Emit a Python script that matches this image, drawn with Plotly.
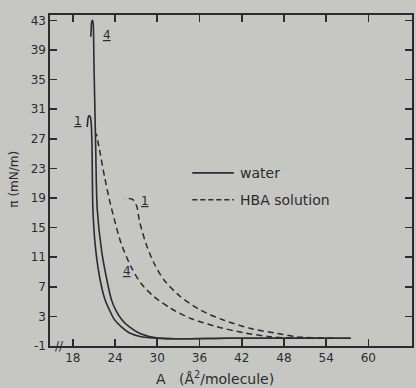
import plotly.graph_objects as go

# ---- data ----
# water, curve 1 (solid)
water1_A  = [57.5, 50.0, 40.0, 31.0, 27.7, 26.0, 24.86, 23.9, 23.21, 22.5, 21.80, 21.2, 20.86, 20.72, 20.62, 20.50, 20.35, 20.20, 20.10, 20.05]
water1_pi = [0.05, 0.05, 0.05, 0.0, 0.26, 0.8, 1.61, 2.6, 3.86, 5.5, 8.36, 12.5, 17.38, 26.39, 29.0, 29.9, 30.15, 29.9, 29.2, 28.6]
# water, curve 4 (solid)
water4_A  = [57.5, 50.0, 40.0, 31.5, 29.0, 27.4, 26.0, 25.0, 24.1, 23.5, 22.75, 22.08, 21.48, 21.24, 21.0, 20.9, 20.8, 20.68, 20.6, 20.55]
water4_pi = [0.05, 0.05, 0.05, 0.0, 0.26, 0.76, 1.61, 2.51, 3.86, 5.22, 8.36, 11.97, 17.38, 26.39, 37.6, 42.5, 43.0, 42.8, 41.5, 40.8]
# HBA solution, curve 1 (dashed)
hba1_A  = [55.0, 54.2, 49.97, 46.92, 43.17, 39.41, 36.13, 33.31, 30.96, 29.55, 28.38, 27.44, 27.11, 26.49, 25.32]
hba1_pi = [0.05, 0.08, 0.22, 0.72, 1.39, 2.51, 3.86, 5.66, 7.92, 10.18, 12.88, 16.03, 17.82, 18.82, 18.96]
# HBA solution, curve 4 (dashed)
hba4_A  = [52.0, 48.0, 45.99, 42.23, 38.47, 34.72, 31.90, 29.55, 27.68, 26.27, 24.86, 23.92, 23.21, 22.51, 21.80, 21.34]
hba4_pi = [0.05, 0.12, 0.26, 0.80, 1.61, 2.74, 4.09, 5.66, 7.47, 9.72, 12.88, 16.03, 18.73, 21.88, 25.49, 27.7]

x_ticks = [18, 24, 30, 36, 42, 48, 54, 60]
y_ticks = [-1, 3, 7, 11, 15, 19, 23, 27, 31, 35, 39, 43]

# curve labels
lab_text = ["1", "4", "1", "4"]
lab_A    = [18.75, 22.8, 28.2, 25.65]
lab_pi   = [29.4, 41.0, 18.6, 9.1]

legend_names = ["water", "HBA solution"]

INK = "#2b2b31"
BG = "#c6c7c2"
FONT = "DejaVu Sans"

fig = go.Figure()
solid = dict(color=INK, width=1.6, shape="spline", smoothing=0.8)
dashed = dict(color=INK, width=1.5, dash="6px,4px", shape="spline", smoothing=0.8)
fig.add_trace(go.Scatter(x=water1_A, y=water1_pi, mode="lines", line=solid, showlegend=False, hoverinfo="skip"))
fig.add_trace(go.Scatter(x=water4_A, y=water4_pi, mode="lines", line=solid, showlegend=False, hoverinfo="skip"))
fig.add_trace(go.Scatter(x=hba1_A, y=hba1_pi, mode="lines", line=dashed, showlegend=False, hoverinfo="skip"))
fig.add_trace(go.Scatter(x=hba4_A, y=hba4_pi, mode="lines", line=dashed, showlegend=False, hoverinfo="skip"))

for t, a, p in zip(lab_text, lab_A, lab_pi):
    fig.add_annotation(x=a, y=p, text="<u>" + t + "</u>", showarrow=False,
                       font=dict(family=FONT, size=12, color=INK))

# legend drawn as shapes + text in paper coordinates
leg_x0, leg_x1 = 0.393, 0.508
leg_y = [0.523, 0.442]
fig.add_shape(type="line", xref="paper", yref="paper", x0=leg_x0, x1=leg_x1, y0=leg_y[0], y1=leg_y[0],
              line=dict(color=INK, width=1.8))
fig.add_shape(type="line", xref="paper", yref="paper", x0=leg_x0, x1=leg_x1, y0=leg_y[1], y1=leg_y[1],
              line=dict(color=INK, width=1.6, dash="5px,3px"))
for name, yy in zip(legend_names, leg_y):
    fig.add_annotation(xref="paper", yref="paper", x=leg_x1 + 0.012, y=yy, text=name,
                       xanchor="left", yanchor="middle", showarrow=False,
                       font=dict(family=FONT, size=14, color=INK))

# axis break mark
fig.add_annotation(x=16.1, y=-1, text="//", showarrow=False,
                   font=dict(family=FONT, size=12, color=INK))

# axis titles
fig.add_annotation(xref="paper", yref="paper", x=0.456, y=-0.097, text="A   (Å<sup>2</sup>/molecule)",
                   showarrow=False, xanchor="center", yanchor="middle",
                   font=dict(family=FONT, size=14, color=INK))
fig.add_annotation(xref="paper", yref="paper", x=-0.10, y=0.505, text="π (mN/m)", textangle=-90,
                   showarrow=False, xanchor="center", yanchor="middle",
                   font=dict(family=FONT, size=12, color=INK))

axis_common = dict(showgrid=False, zeroline=False, showline=True, linecolor=INK, linewidth=1.6,
                   mirror="allticks", ticks="inside", ticklen=7, tickwidth=1.6, tickcolor=INK,
                   tickfont=dict(family=FONT, size=12, color=INK))
fig.update_xaxes(range=[14.76, 66.2], tickvals=x_ticks, ticktext=[str(v) for v in x_ticks], **axis_common)
fig.update_yaxes(range=[-1, 43.73], tickvals=y_ticks, ticktext=[str(v) for v in y_ticks], **axis_common)

fig.update_layout(width=416, height=388, margin=dict(l=50, r=2, t=15, b=42),
                  paper_bgcolor=BG, plot_bgcolor=BG, showlegend=False, hovermode=False)

fig.write_html("out.html", config={"displayModeBar": False, "staticPlot": True},
               post_script="document.body.style.margin='0px';document.body.style.overflow='hidden';document.body.style.background='" + BG + "';")
